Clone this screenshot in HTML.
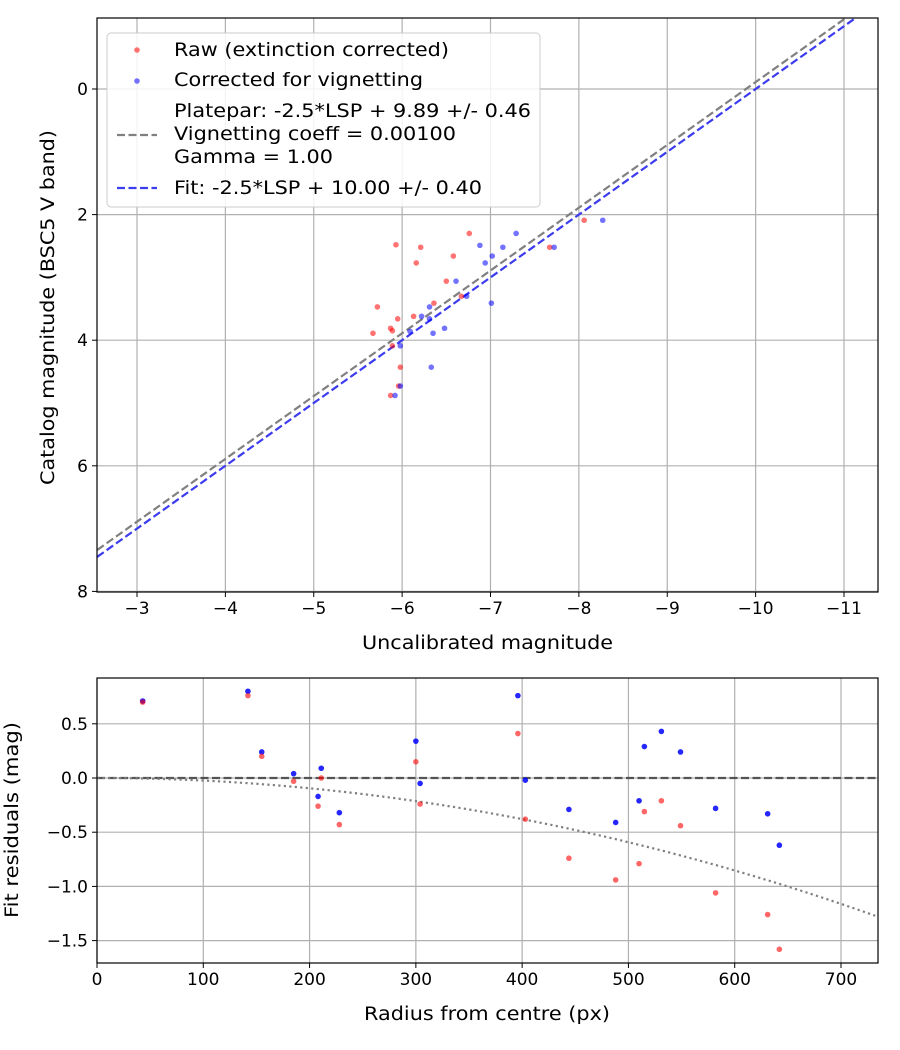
<!DOCTYPE html>
<html><head><meta charset="utf-8"><style>
body{margin:0;background:#fff}
svg{display:block;font-family:"DejaVu Sans","Liberation Sans",sans-serif}
</style></head><body>
<svg id="c" width="900" height="1050" viewBox="0 0 900 1050">
<rect width="900" height="1050" fill="#fff"/>
<g id="top"></g>
<g id="bot"></g>
</svg>
<script>
// Top chart data
const rawUncal=[-5.93,-6.21,-6.16,-6.58,-6.76,-6.50,-6.36,-5.72,-6.13,-5.95,-5.87,-5.89,-5.67,-5.89,-5.98,-5.96,-5.87,-6.67,-7.67,-8.06];
const rawCat=[2.48,2.52,2.77,2.66,2.30,3.06,3.41,3.47,3.62,3.66,3.81,3.85,3.89,4.09,4.43,4.73,4.88,3.30,2.52,2.09];
const corUncal=[-6.88,-7.14,-7.29,-7.02,-6.94,-6.61,-6.73,-6.31,-6.22,-6.31,-7.01,-6.48,-6.09,-6.35,-5.98,-6.33,-5.98,-5.92,-7.72,-8.27];
const corCat=[2.49,2.52,2.30,2.66,2.77,3.06,3.30,3.47,3.62,3.66,3.41,3.81,3.86,3.89,4.09,4.43,4.73,4.88,2.52,2.09];
const fitOffsets=[9.89,10.00];
const xTicksTop=[-3,-4,-5,-6,-7,-8,-9,-10,-11];
const yTicksTop=[0,2,4,6,8];
// Bottom chart data
const radius=[43,142,155,185,208,211,228,300,304,396,403,444,488,510,515,531,549,582,631,642];
const resRaw=[0.70,0.76,0.20,-0.03,-0.26,0.00,-0.43,0.15,-0.24,0.41,-0.38,-0.74,-0.94,-0.79,-0.31,-0.21,-0.44,-1.06,-1.26,-1.58];
const resCor=[0.71,0.80,0.24,0.04,-0.17,0.09,-0.32,0.34,-0.05,0.76,-0.02,-0.29,-0.41,-0.21,0.29,0.43,0.24,-0.28,-0.33,-0.62];
const vignK=[2.37e-6];
const xTicksBot=[0,100,200,300,400,500,600,700];
const yTicksBot=[0.5,0.0,-0.5,-1.0,-1.5];

const NS='http://www.w3.org/2000/svg';
function mk(p,t,a){const e=document.createElementNS(NS,t);for(const k in a)e.setAttribute(k,a[k]);p.appendChild(e);return e;}
function fmt(v){return (v<0?'\u2212':'')+Math.abs(v);}
function fmt1(v){return (v<0?'\u2212':'')+Math.abs(v).toFixed(1);}

// ---------- TOP ----------
const T=document.getElementById('top');
const tL=97,tR=878,tT=18,tB=592;
const tx=v=>137+(-3-v)*88.375;
const ty=v=>89+v*62.8;
xTicksTop.forEach(v=>{const X=tx(v);
 const g=mk(T,'line',{x1:X,x2:X,y1:tT,y2:tB,stroke:'#b0b0b0','stroke-width':1.2});
 
 mk(T,'line',{x1:X,x2:X,y1:tB,y2:tB+5,stroke:'#000','stroke-width':1});
 const t=mk(T,'text',{x:X,y:tB+22,'text-anchor':'middle','font-size':17});t.textContent=fmt(v);
 });
yTicksTop.forEach(v=>{const Y=ty(v);
 const g=mk(T,'line',{x1:tL,x2:tR,y1:Y,y2:Y,stroke:'#b0b0b0','stroke-width':1.2});
 
 mk(T,'line',{x1:tL-5,x2:tL,y1:Y,y2:Y,stroke:'#000','stroke-width':1});
 const t=mk(T,'text',{x:tL-9,y:Y+6,'text-anchor':'end','font-size':17});t.textContent=v;
 });
mk(T,'clipPath',{id:'ct'}).appendChild(document.createElementNS(NS,'rect'));
const cr=document.querySelector('#ct rect');cr.setAttribute('x',tL);cr.setAttribute('y',tT);cr.setAttribute('width',tR-tL);cr.setAttribute('height',tB-tT);
const lineG=mk(T,'g',{'clip-path':'url(#ct)'});
const xa=-2.55,xb=-11.4;
[['#808080',0,'platepar-line'],['#3b3bf0',1,'fit-line']].forEach(([c,i,n])=>{
 const l=mk(lineG,'line',{x1:tx(xa),y1:ty(xa+fitOffsets[i]),x2:tx(xb),y2:ty(xb+fitOffsets[i]),stroke:c,'stroke-width':2.2,'stroke-dasharray':'8,3.5'});
 });
rawUncal.forEach((v,i)=>{const c=mk(lineG,'circle',{cx:tx(v),cy:ty(rawCat[i]),r:2.8,fill:'red','fill-opacity':0.55});
 });
corUncal.forEach((v,i)=>{const c=mk(lineG,'circle',{cx:tx(v),cy:ty(corCat[i]),r:2.8,fill:'blue','fill-opacity':0.55});
 });
mk(T,'rect',{x:tL,y:tT,width:tR-tL,height:tB-tT,fill:'none',stroke:'#000','stroke-width':1.2});
let t=mk(T,'text',{x:362,y:649,'font-size':18.5,textLength:251,lengthAdjust:'spacingAndGlyphs'});t.textContent='Uncalibrated magnitude';

t=mk(T,'text',{x:0,y:0,'font-size':18.5,textLength:355,lengthAdjust:'spacingAndGlyphs',transform:'translate(54,485) rotate(-90)'});t.textContent='Catalog magnitude (BSC5 V band)';

// legend
const L=mk(T,'g',{});
mk(L,'rect',{x:107,y:33,width:433,height:174,rx:4,fill:'#fff','fill-opacity':0.85,stroke:'#ccc','stroke-width':1});
mk(L,'circle',{cx:137,cy:50,r:2.8,fill:'red','fill-opacity':0.55});
mk(L,'circle',{cx:137,cy:81,r:2.8,fill:'blue','fill-opacity':0.55});
mk(L,'line',{x1:117,x2:157,y1:135,y2:135,stroke:'#808080','stroke-width':2.2,'stroke-dasharray':'8,3.5'});
mk(L,'line',{x1:117,x2:157,y1:188,y2:188,stroke:'#3b3bf0','stroke-width':2.2,'stroke-dasharray':'8,3.5'});
[['Raw (extinction corrected)',56,275],['Corrected for vignetting',86,249],['Platepar: -2.5*LSP + 9.89 +/- 0.46',117,357],['Vignetting coeff = 0.00100',140,282],['Gamma = 1.00',163,159],['Fit: -2.5*LSP + 10.00 +/- 0.40',194,308]].forEach(([s,y,w])=>{
 const e=mk(L,'text',{x:174,y:y,'font-size':19,textLength:w,lengthAdjust:'spacingAndGlyphs'});e.textContent=s;
 });

// ---------- BOTTOM ----------
const B=document.getElementById('bot');
const bL=97,bR=878,bT=678,bB=963;
const bx=v=>97+v*(744/700);
const by=v=>778-v*108.4;
xTicksBot.forEach(v=>{const X=bx(v);
 const g=mk(B,'line',{x1:X,x2:X,y1:bT,y2:bB,stroke:'#b0b0b0','stroke-width':1.2});
 
 mk(B,'line',{x1:X,x2:X,y1:bB,y2:bB+5,stroke:'#000','stroke-width':1});
 const e=mk(B,'text',{x:X,y:bB+22,'text-anchor':'middle','font-size':17});e.textContent=v;
 });
yTicksBot.forEach(v=>{const Y=by(v);
 const g=mk(B,'line',{x1:bL,x2:bR,y1:Y,y2:Y,stroke:'#b0b0b0','stroke-width':1.2});
 
 mk(B,'line',{x1:bL-5,x2:bL,y1:Y,y2:Y,stroke:'#000','stroke-width':1});
 const e=mk(B,'text',{x:bL-9,y:Y+6,'text-anchor':'end','font-size':17});e.textContent=fmt1(v);
 });
let z=mk(B,'line',{x1:bL,x2:bR,y1:by(0),y2:by(0),stroke:'#404040','stroke-width':2.2,'stroke-opacity':0.85,'stroke-dasharray':'8,3.5'});

let pts=[];for(let r=0;r<=735;r+=5)pts.push(bx(r)+','+by(-vignK[0]*r*r));
z=mk(B,'polyline',{points:pts.join(' '),fill:'none',stroke:'#808080','stroke-width':2.2,'stroke-dasharray':'2.2,3.3'});

radius.forEach((r,i)=>{const c=mk(B,'circle',{cx:bx(r),cy:by(resCor[i]),r:2.8,fill:'blue','fill-opacity':0.85});
 });
radius.forEach((r,i)=>{const c=mk(B,'circle',{cx:bx(r),cy:by(resRaw[i]),r:2.8,fill:'red','fill-opacity':0.6});
 });
mk(B,'rect',{x:bL,y:bT,width:bR-bL,height:bB-bT,fill:'none',stroke:'#000','stroke-width':1.2});
t=mk(B,'text',{x:364,y:1020,'font-size':18.5,textLength:246,lengthAdjust:'spacingAndGlyphs'});t.textContent='Radius from centre (px)';

t=mk(B,'text',{x:0,y:0,'font-size':18.5,textLength:196,lengthAdjust:'spacingAndGlyphs',transform:'translate(18,918) rotate(-90)'});t.textContent='Fit residuals (mag)';

</script>
</body></html>
